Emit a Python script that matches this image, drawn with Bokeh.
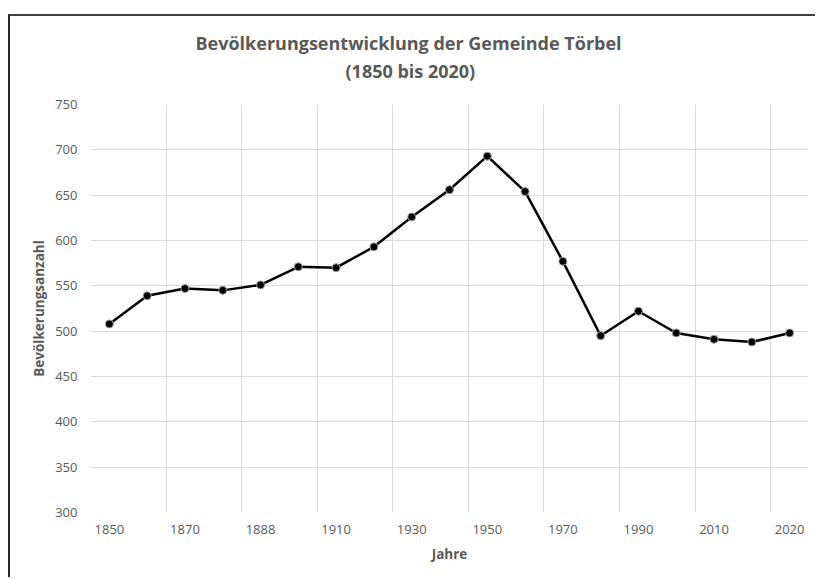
from bokeh.plotting import figure
from bokeh.models import Range1d, FixedTicker, Title
from bokeh.embed import file_html
from bokeh.resources import INLINE

# ---- data ----
years = ["1850", "1860", "1870", "1880", "1888", "1900", "1910", "1920", "1930", "1941",
         "1950", "1960", "1970", "1980", "1990", "2000", "2010", "2015", "2020"]
population = [508, 539, 547, 545, 551, 571, 570, 593, 626, 656,
              693, 654, 577, 495, 522, 498, 491, 488, 498]
y_ticks = [300, 350, 400, 450, 500, 550, 600, 650, 700, 750]
title_line1 = "Bevölkerungsentwicklung der Gemeinde Törbel"
title_line2 = "(1850 bis 2020)"
x_title = "Jahre"
y_title = "Bevölkerungsanzahl"

FONT = "Open Sans"
GRAY = "#595959"
GRID = "#d9d9d9"

xs = list(range(len(years)))

p = figure(width=807, height=563,
           x_range=Range1d(-0.5, len(years) - 0.5),
           y_range=Range1d(y_ticks[0], y_ticks[-1]),
           output_backend="svg", toolbar_location=None,
           min_border_left=80, min_border_right=9,
           min_border_top=88, min_border_bottom=67)
p.styles = {"margin-top": "14px", "margin-left": "8px",
            "border-top": "2px solid #404040",
            "border-left": "2px solid #262626"}
p.outline_line_color = None
p.background_fill_color = "white"
p.border_fill_color = "white"

# titles (later added = further from plot); a blank spacer panel sits next to the plot
p.title.visible = False
spacer = Title(text=" ", text_font_size="1px", standoff=17.5)
t2 = Title(text=title_line2, align="left", text_font=FONT, text_font_size="18px",
           text_font_style="bold", text_color=GRAY, offset=255, standoff=1.5)
t1 = Title(text=title_line1, align="left", text_font=FONT, text_font_size="18px",
           text_font_style="bold", text_color=GRAY, offset=105, standoff=1.5)
p.add_layout(spacer, "above")
p.add_layout(t2, "above")
p.add_layout(t1, "above")

# axes
p.xaxis.ticker = FixedTicker(ticks=xs[::2])
p.xaxis.major_label_overrides = {i: years[i] for i in xs}
p.yaxis.ticker = FixedTicker(ticks=y_ticks)
for ax in (p.xaxis[0], p.yaxis[0]):
    ax.axis_line_color = None
    ax.major_tick_line_color = None
    ax.minor_tick_line_color = None
    ax.major_tick_out = 0
    ax.major_tick_in = 0
    ax.minor_tick_out = 0
    ax.major_label_text_font = FONT
    ax.major_label_text_font_size = "13px"
    ax.major_label_text_color = GRAY
    ax.axis_label_text_font = FONT
    ax.axis_label_text_font_size = "13.5px"
    ax.axis_label_text_font_style = "bold"
    ax.axis_label_text_color = GRAY
p.xaxis.axis_label = x_title
p.yaxis.axis_label = y_title
p.xaxis.major_label_standoff = 12
p.yaxis.major_label_standoff = 13
p.xaxis.axis_label_standoff = 8
p.yaxis.axis_label_standoff = 4

# grids
p.xgrid.ticker = FixedTicker(ticks=[i - 0.5 for i in xs[::2]])
p.xgrid.grid_line_color = GRID
p.ygrid.grid_line_color = GRID
p.xgrid.grid_line_width = 1
p.ygrid.grid_line_width = 1

# data
p.line(xs, population, line_color="black", line_width=2.5)
p.scatter(xs, population, size=8, fill_color="black", line_color="#a0a0a0", line_width=1)

open("out.html", "w").write(file_html(p, INLINE))
